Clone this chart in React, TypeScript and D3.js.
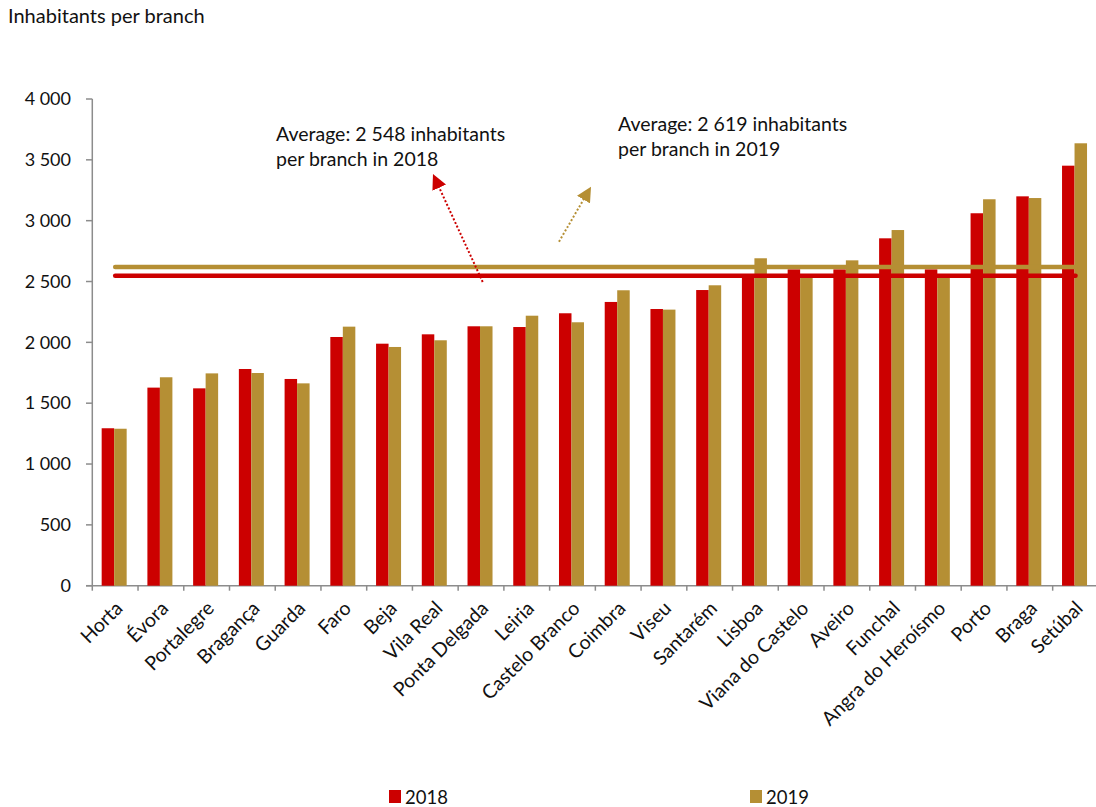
import React from "react";
import * as d3 from "d3";

const categories = ["Horta","Évora","Portalegre","Bragança","Guarda","Faro","Beja","Vila Real","Ponta Delgada","Leiria","Castelo Branco","Coimbra","Viseu","Santarém","Lisboa","Viana do Castelo","Aveiro","Funchal","Angra do Heroísmo","Porto","Braga","Setúbal"];
const values2018 = [1294,1628,1622,1781,1699,2044,1989,2066,2132,2126,2239,2332,2274,2430,2560,2600,2600,2855,2600,3061,3200,3452];
const values2019 = [1290,1713,1745,1748,1663,2129,1962,2017,2132,2219,2165,2428,2269,2469,2691,2540,2674,2923,2550,3176,3186,3636];
const avg2018 = 2548;
const avg2019 = 2619;
const yTicks = [0,500,1000,1500,2000,2500,3000,3500,4000];
const seriesNames = ["2018","2019"];

const RED = "#CC0000";
const GOLD = "#B58F34";
const FONT = "Lato, 'Open Sans', sans-serif";

export default function App() {
  const W = 1096, H = 807;
  const x = d3.scaleBand<string>().domain(categories).range([92.3, 1098.4]).paddingInner(0).paddingOuter(0);
  const y = d3.scaleLinear().domain([0, 4000]).range([585.7, 99]);
  const bw = 12.5;
  const fmt = (v: number) => d3.format(",")(v).replace(/,/g, " ");
  const c0 = x(categories[0])! + x.bandwidth() / 2;
  const cN = x(categories[categories.length - 1])! + x.bandwidth() / 2;

  return (
    <svg width={W} height={H} style={{ position: "absolute", left: 0, top: 0, fontFamily: FONT }}>
      <defs>
        <marker id="arrRed" viewBox="0 0 10 10" refX="2" refY="5" markerWidth="7.5" markerHeight="7.5" orient="auto" markerUnits="strokeWidth">
          <path d="M0,0 L10,5 L0,10 Z" fill={RED} />
        </marker>
        <marker id="arrGold" viewBox="0 0 10 10" refX="2" refY="5" markerWidth="7.5" markerHeight="7.5" orient="auto" markerUnits="strokeWidth">
          <path d="M0,0 L10,5 L0,10 Z" fill={GOLD} />
        </marker>
      </defs>
      <text x={8} y={23} fontSize={20} fill="#111">Inhabitants per branch</text>

      {/* y axis */}
      <line x1={92.3} x2={92.3} y1={y(4000)} y2={y(0)} stroke="#8c8c8c" strokeWidth={1.5} />
      {yTicks.map(t => (
        <g key={t}>
          <line x1={86} x2={92.3} y1={y(t)} y2={y(t)} stroke="#8c8c8c" strokeWidth={1.5} />
          <text x={71} y={y(t)} dy="0.35em" textAnchor="end" fontSize={18} fill="#111">{fmt(t)}</text>
        </g>
      ))}

      {/* x axis */}
      <line x1={86} x2={1098.4} y1={y(0)} y2={y(0)} stroke="#8c8c8c" strokeWidth={1.5} />
      {categories.map((c, i) => (
        <line key={"t" + i} x1={x(c)!} x2={x(c)!} y1={y(0)} y2={y(0) + 5} stroke="#8c8c8c" strokeWidth={1.5} />
      ))}

      {/* bars */}
      {categories.map((c, i) => {
        const cx = x(c)! + x.bandwidth() / 2 - 1;
        return (
          <g key={c}>
            <rect x={cx - bw} y={y(values2018[i])} width={bw} height={y(0) - y(values2018[i])} fill={RED} />
            <rect x={cx} y={y(values2019[i])} width={bw} height={y(0) - y(values2019[i])} fill={GOLD} />
          </g>
        );
      })}

      {/* average lines */}
      <line x1={c0} x2={cN} y1={y(avg2019)} y2={y(avg2019)} stroke={GOLD} strokeWidth={4.5} strokeLinecap="round" />
      <line x1={c0} x2={cN} y1={y(avg2018)} y2={y(avg2018)} stroke={RED} strokeWidth={4.5} strokeLinecap="round" />

      {/* arrows */}
      <line x1={482.7} y1={282} x2={438} y2={185} stroke={RED} strokeWidth={2} strokeDasharray="2 2" markerEnd="url(#arrRed)" />
      <line x1={559} y1={241.7} x2={585} y2={197} stroke={GOLD} strokeWidth={2} strokeDasharray="2 2" markerEnd="url(#arrGold)" />

      {/* annotations */}
      <text x={276} y={141} fontSize={19.5} fill="#111">Average: {fmt(avg2018)} inhabitants</text>
      <text x={276} y={166} fontSize={19.5} fill="#111">per branch in 2018</text>
      <text x={618} y={131} fontSize={19.5} fill="#111">Average: {fmt(avg2019)} inhabitants</text>
      <text x={618} y={156} fontSize={19.5} fill="#111">per branch in 2019</text>

      {/* x labels */}
      {categories.map(c => {
        const cx = x(c)! + x.bandwidth() / 2 + 1;
        return (
          <text key={"l" + c} transform={`translate(${cx},${602}) rotate(-45)`} textAnchor="end" dy="0.55em" fontSize={19.5} fill="#111">{c}</text>
        );
      })}

      {/* legend */}
      <rect x={389} y={790} width={12} height={13} fill={RED} />
      <text x={405} y={804} fontSize={18.5} fill="#111">{seriesNames[0]}</text>
      <rect x={750} y={790} width={12} height={13} fill={GOLD} />
      <text x={766} y={804} fontSize={18.5} fill="#111">{seriesNames[1]}</text>
    </svg>
  );
}
